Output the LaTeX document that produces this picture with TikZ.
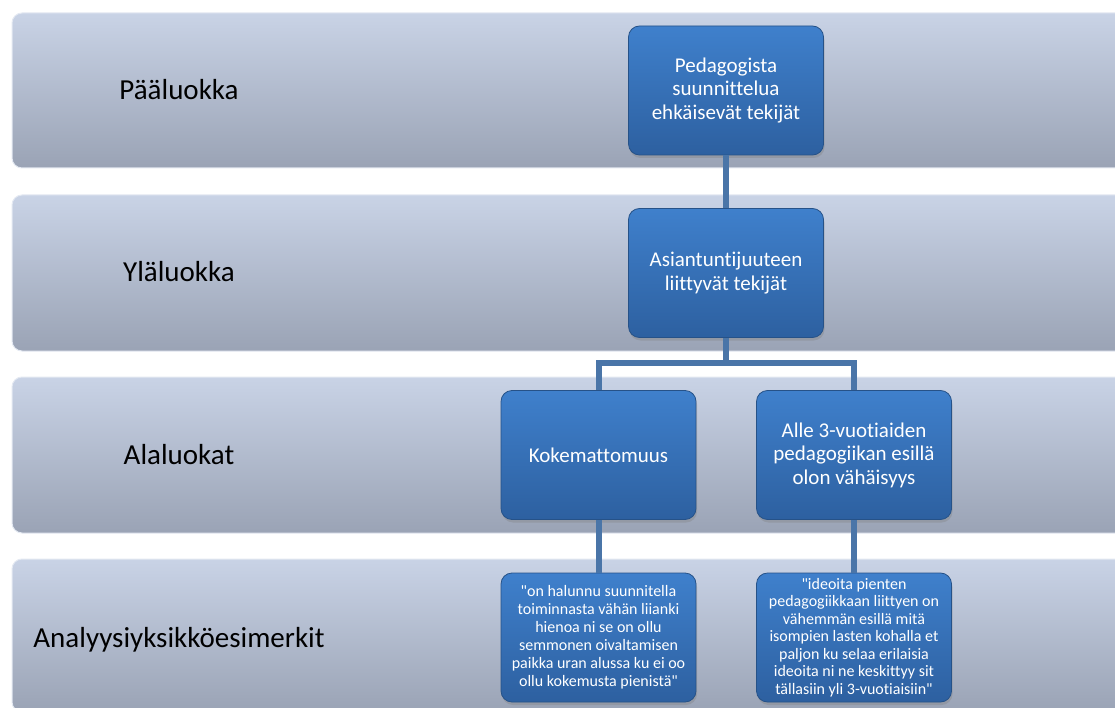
\documentclass[tikz,border=0pt]{standalone}
\usepackage{fontspec}
\setmainfont{Carlito}[Ligatures=NoCommon]
\usetikzlibrary{shadows}

\definecolor{bandtop}{HTML}{C9D3E6}
\definecolor{bandbot}{HTML}{9AA3B5}
\definecolor{boxtop}{HTML}{3F80CC}
\definecolor{boxbot}{HTML}{2D60A0}
\definecolor{linkblue}{HTML}{4A75A8}

\begin{document}
\begin{tikzpicture}[x=1pt,y=-1pt,
  band/.style={rounded corners=10pt,top color=bandtop,bottom color=bandbot,draw=bandtop!50!white,line width=1pt},
  bandlabel/.style={anchor=base,font=\fontsize{29}{34}\selectfont,text=black},
  catbox/.style={rounded corners=11pt,top color=boxtop,bottom color=boxbot,draw=boxbot!85!black,line width=0.8pt,
    minimum width=195pt,minimum height=129pt,align=center,text=white,font=\fontsize{21}{23.5}\selectfont,
    drop shadow={opacity=0.35,shadow xshift=1pt,shadow yshift=-3pt}},
  quotebox/.style={catbox,font=\fontsize{16}{18}\selectfont},
  link/.style={linkblue,line width=6pt}]
\useasboundingbox (0,0) rectangle (1115,708);
\clip (0,0) rectangle (1115,708);

% bands
\foreach \ytop/\ybot in {13/168, 195/351, 377/533, 559/712}
  \draw[band] (12,\ytop) rectangle (1140,\ybot);

\node[bandlabel] (paa)  at (179,100) {Pääluokka};
\node[bandlabel] (yla)  at (179,282) {Yläluokka};
\node[bandlabel] (ala)  at (179,464) {Alaluokat};
\node[bandlabel] (esim) at (179,647) {Analyysiyksikköesimerkit};

% categories
\node[catbox] (paaluokka) at (726,90.5) {Pedagogista\\suunnittelua\\ehkäisevät tekijät};
\node[catbox] (ylaluokka) at (726,273) {Asiantuntijuuteen\\liittyvät tekijät};
\node[catbox] (koke) at (598.5,455) {Kokemattomuus};
\node[catbox] (alle) at (854,455) {Alle 3-vuotiaiden\\pedagogiikan esillä\\olon vähäisyys};

\node[quotebox] (sitaatti1) at (598.5,637.5) {\textquotedbl on halunnu suunnitella\\toiminnasta vähän liianki\\hienoa ni se on ollu\\semmonen oivaltamisen\\paikka uran alussa ku ei oo\\ollu kokemusta pienistä\textquotedbl};
\node[quotebox,font=\fontsize{16}{17.5}\selectfont] (sitaatti2) at (854,637.5) {\textquotedbl ideoita pienten\\pedagogiikkaan liittyen on\\vähemmän esillä mitä\\isompien lasten kohalla et\\paljon ku selaa erilaisia\\ideoita ni ne keskittyy sit\\tällasiin yli 3-vuotiaisiin\textquotedbl};

% connectors
\coordinate (haara) at (726,363);
\draw[link] (paaluokka.south) -- (ylaluokka.north);
\draw[link] (ylaluokka.south) -- (haara);
\draw[link] (koke.north) |- (haara) -| (alle.north);
\draw[link] (koke.south) -- (sitaatti1.north);
\draw[link] (alle.south) -- (sitaatti2.north);

\end{tikzpicture}
\end{document}
